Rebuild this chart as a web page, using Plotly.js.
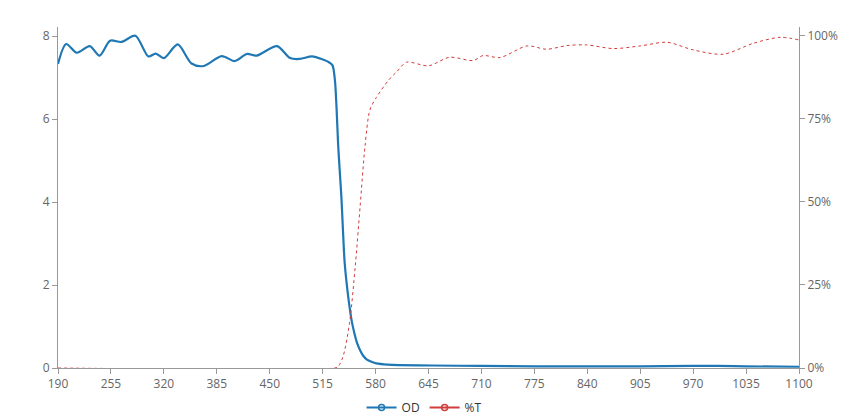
<!DOCTYPE html>
<html>
<head>
<meta charset="utf-8">
<script src="https://cdn.plot.ly/plotly-3.0.1.min.js"></script>
<style>html,body{margin:0;padding:0;background:#fff;}#chart{width:851px;height:418px;}</style>
</head>
<body>
<div id="chart"></div>
<script>
// Wavelength (nm) and optical density
var odWavelength = [190, 200, 213, 229, 241, 254, 268, 285, 301, 310, 320, 337, 354, 369, 391, 407, 422, 434, 459, 475, 487, 502, 516, 522, 527, 530, 532, 534, 536, 538, 540, 542, 545, 548, 551, 554, 557, 561, 565, 569, 575, 581, 595, 610, 650, 710, 775, 840, 905, 970, 1000, 1035, 1100];
var odValues     = [7.33, 7.81, 7.60, 7.76, 7.53, 7.89, 7.86, 8.01, 7.51, 7.58, 7.47, 7.80, 7.34, 7.28, 7.52, 7.40, 7.57, 7.53, 7.76, 7.47, 7.45, 7.51, 7.43, 7.38, 7.30, 6.95, 6.30, 5.40, 4.75, 4.13, 3.30, 2.55, 1.95, 1.48, 1.10, 0.84, 0.62, 0.43, 0.29, 0.21, 0.15, 0.11, 0.08, 0.07, 0.06, 0.05, 0.04, 0.04, 0.04, 0.05, 0.05, 0.04, 0.03];

// Wavelength (nm) and transmission (%)
var tWavelength = [190, 530, 534, 540, 548, 555, 561, 567, 573, 581, 596, 606, 618, 645, 671, 700, 712, 733, 766, 790, 815, 839, 872, 905, 938, 970, 1007, 1044, 1077, 1100];
var tValues     = [0, 0, 0.4, 3.4, 13.5, 30.5, 48.6, 66.7, 77.7, 81.5, 86.7, 89.2, 92.1, 91.0, 93.6, 92.6, 94.1, 93.5, 97.0, 96.0, 97.1, 97.3, 96.2, 97.0, 98.1, 95.8, 94.5, 97.8, 99.6, 98.8];

var seriesNames = ['OD', '%T'];
var xTickStart = 190, xTickStep = 65;
var leftTicks = [0, 2, 4, 6, 8];
var rightTicks = [0, 25, 50, 75, 100];
var rightTickText = ['0%', '25%', '50%', '75%', '100%'];

var blue = '#1f77b4', red = '#d23c3c';

var traces = [
  {x: tWavelength, y: tValues, yaxis: 'y2', mode: 'lines', showlegend: false,
   line: {color: red, width: 1, dash: '3px,3px', shape: 'spline', smoothing: 0.8}},
  {x: odWavelength, y: odValues, mode: 'lines', showlegend: false,
   line: {color: blue, width: 2.2, shape: 'spline', smoothing: 0.8}},
  {x: [null], y: [null], name: seriesNames[0], mode: 'lines+markers',
   line: {color: blue, width: 2}, marker: {symbol: 'circle-open', size: 6, color: blue, line: {width: 1.5}}},
  {x: [null], y: [null], name: seriesNames[1], yaxis: 'y2', mode: 'lines+markers',
   line: {color: red, width: 2}, marker: {symbol: 'circle-open', size: 6, color: red, line: {width: 1.5}}}
];

var axisCommon = {
  showgrid: false, zeroline: false, showline: true, linecolor: '#999', linewidth: 1,
  ticks: 'outside', ticklen: 5, tickcolor: '#999',
  tickfont: {family: 'Open Sans, sans-serif', size: 12, color: '#666'}
};

var layout = {
  width: 851, height: 418,
  margin: {l: 58, r: 52, t: 27, b: 50, autoexpand: false},
  paper_bgcolor: '#fff', plot_bgcolor: '#fff',
  font: {family: 'Open Sans, sans-serif', size: 12, color: '#666'},
  xaxis: Object.assign({}, axisCommon, {range: [190, 1100], tick0: xTickStart, dtick: xTickStep, tickmode: 'linear'}),
  yaxis: Object.assign({}, axisCommon, {range: [0, 8.22], tickmode: 'array', tickvals: leftTicks}),
  yaxis2: Object.assign({}, axisCommon, {range: [0, 102.7], tickmode: 'array', tickvals: rightTicks, ticktext: rightTickText, overlaying: 'y', side: 'right', anchor: 'x'}),
  legend: {orientation: 'h', x: 0.494, xanchor: 'center', y: -0.073, yanchor: 'top',
           font: {family: 'Open Sans, sans-serif', size: 12, color: '#333'}, itemwidth: 30},
  showlegend: true
};

Plotly.newPlot('chart', traces, layout, {displayModeBar: false, staticPlot: true});
</script>
</body>
</html>
